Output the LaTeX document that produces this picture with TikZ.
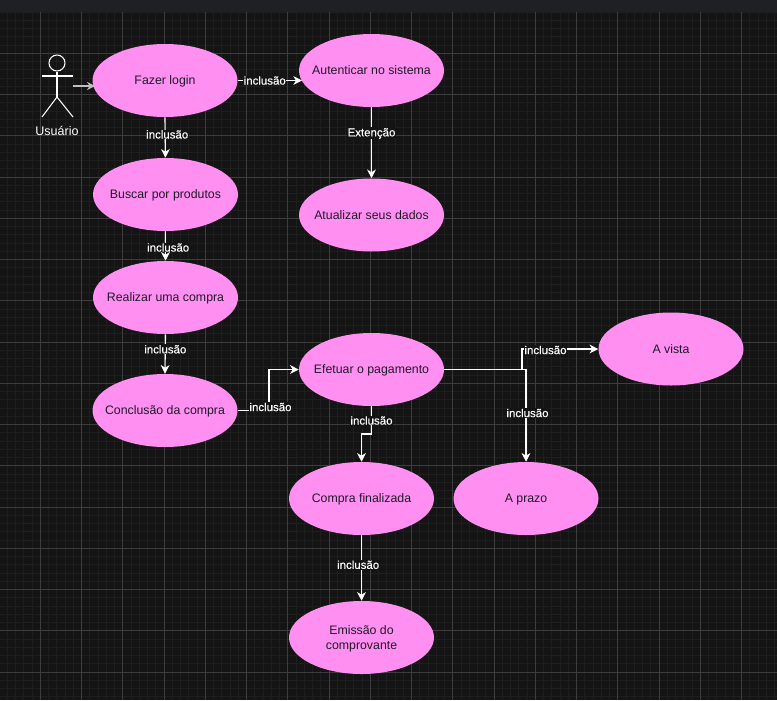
\documentclass[tikz,border=0pt]{standalone}
\usepackage{fontspec}
\setmainfont{Liberation Sans}
\newfontfamily\lblfont[FakeBold=0.25]{Liberation Sans}
\usetikzlibrary{shapes.geometric,arrows.meta}
\definecolor{bgdark}{HTML}{141414}
\definecolor{topbar}{HTML}{1E2023}
\definecolor{gridminor}{HTML}{1E1E1E}
\definecolor{gridmajor}{HTML}{3D3D3D}
\definecolor{pinkfill}{HTML}{FF8FF0}
\definecolor{inkdark}{HTML}{1C1A2A}
\tikzset{
  usecasebase/.style={ellipse,fill=pinkfill,draw=none,minimum width=108.75pt,minimum height=54.75pt,inner xsep=-30pt,inner ysep=-6pt,text=inkdark,font=\fontsize{9.25}{11.25}\selectfont,align=center},
  usecase/.style={usecasebase,text height=6.5pt,text depth=0.4pt},
  conn/.style={draw=white,line width=0.85pt,-{Stealth[length=6.5pt,width=6.5pt,inset=2pt]}},
  edgelabel/.style={fill=bgdark,text=white,inner xsep=0.5pt,inner ysep=0.5pt,font=\lblfont\fontsize{8.6}{10}\selectfont},
  stick/.style={draw=white,line width=0.8pt},
  minorline/.style={draw=gridminor,line width=0.75pt},
  majorline/.style={draw=gridmajor,line width=0.75pt}
}
\begin{document}
\begin{tikzpicture}[x=0.75pt,y=-0.75pt]
\useasboundingbox (0,0) rectangle (777,700);
\fill[bgdark] (0,0) rectangle (777,700);
\begin{scope}
\clip (0,12) rectangle (777,700);
\foreach \i in {0,...,95} {\draw[minorline] ({-0.95+8.25*\i},12) -- ({-0.95+8.25*\i},700);}
\foreach \i in {0,...,84} {\draw[minorline] (0,{12.05+8.25*\i}) -- (777,{12.05+8.25*\i});}
\foreach \i in {0,...,18} {\draw[majorline] ({40.3+41.25*\i},12) -- ({40.3+41.25*\i},700);}
\foreach \i in {0,...,16} {\draw[majorline] (0,{53.3+41.25*\i}) -- (777,{53.3+41.25*\i});}
\end{scope}
\fill[topbar] (0,0) rectangle (777,12);

% use cases
\node[usecase] (login) at (165,80.5) {Fazer login};
\node[usecase] (auth) at (371.5,70.5) {Autenticar no sistema};
\node[usecase] (search) at (165.5,194.5) {Buscar por produtos};
\node[usecase] (update) at (371.5,215) {Atualizar seus dados};
\node[usecase] (buy) at (165.5,297.5) {Realizar uma compra};
\node[usecase] (finish) at (165,410.5) {Conclusão da compra};
\node[usecase] (pay) at (371.5,369.5) {Efetuar o pagamento};
\node[usecase] (done) at (361.5,498.5) {Compra finalizada};
\node[usecase] (later) at (526,498.5) {A prazo};
\node[usecase] (cash) at (671,349) {A vista};
\node[usecasebase,text height=19.3pt] (receipt) at (361.5,637.5) {Emissão do\\comprovante};

% actor
\node[circle,draw=white,line width=0.8pt,fill=none,minimum size=12pt,inner sep=0pt] (head) at (57,63) {};
\coordinate (armL) at (42,76);
\coordinate (armR) at (73,76);
\coordinate (hip) at (57,97);
\coordinate (legL) at (42,117);
\coordinate (legR) at (73,117);
\coordinate (hand) at (73,86);
\coordinate (loginIn) at (95,86);
\draw[stick] (head.south) -- (hip);
\draw[stick] (armL) -- (armR);
\draw[stick] (legL) -- (hip) -- (legR);
\node[text=white,font=\fontsize{9.4}{11}\selectfont] (actorname) at (57,131) {Usuário};
\draw[draw=white!75!black,line width=1pt,-{Stealth[length=6pt,width=6pt,inset=2pt]}] (hand) -- (loginIn);

% connectors
\coordinate (authIn) at (302,80.5);
\draw[conn] (login.east) -- (authIn) node[edgelabel,pos=0.42] {inclusão};
\draw[conn] (login.south) -- (search.north) node[edgelabel,pos=0.44,xshift=1.5pt,yshift=0.5pt] {inclusão};
\draw[conn] (auth.south) -- (update.north) node[edgelabel,pos=0.36,yshift=-0.5pt] {Extenção};
\draw[conn] (search.south) -- (buy.north) node[edgelabel,pos=0.55,xshift=2pt] {inclusão};
\draw[conn] (buy.south) -- (finish.north) node[edgelabel,pos=0.38] {inclusão};
\draw[conn] (finish.east) -- (269,410.5) -- (269,369.5) -- (pay.west);
\node[edgelabel] (lblpay) at (270.5,407) {inclusão};
\draw[conn] (pay.south) -- (371.5,434) -- (361.5,434) -- (done.north);
\node[edgelabel] (lbldone) at (371.5,420.5) {inclusão};
\draw[conn] (pay.east) -- (526,369.5) -- (later.north);
\node[edgelabel] (lbllater) at (527.5,413) {inclusão};
\draw[conn] (pay.east) -- (522,369.5) -- (522,349) -- (cash.west);
\node[edgelabel] (lblcash) at (545.5,350) {inclusão};
\draw[conn] (done.south) -- (receipt.north) node[edgelabel,pos=0.45,xshift=-2.5pt] {inclusão};
\end{tikzpicture}
\end{document}
